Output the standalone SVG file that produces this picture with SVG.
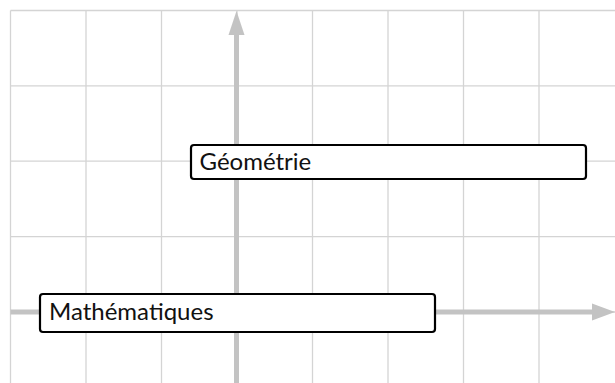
<svg xmlns="http://www.w3.org/2000/svg" width="615" height="383" viewBox="0 0 615 383">
<defs>
<style>
.grid line{stroke:#d4d4d4;stroke-width:1.3}
.axis{stroke:#c3c3c3;stroke-width:5;fill:none}
.head{fill:#c3c3c3}
.box{fill:#fff;stroke:#000;stroke-width:2.2}
.lbl{font-family:Lato,"Liberation Sans",sans-serif;font-size:24px;fill:#111}
</style>
</defs>
<rect width="615" height="383" fill="#fff"/>
<g class="grid">
<line x1="10.5" y1="10.5" x2="10.5" y2="383"/>
<line x1="86" y1="10.5" x2="86" y2="383"/>
<line x1="161.5" y1="10.5" x2="161.5" y2="383"/>
<line x1="237" y1="10.5" x2="237" y2="383"/>
<line x1="312.5" y1="10.5" x2="312.5" y2="383"/>
<line x1="388" y1="10.5" x2="388" y2="383"/>
<line x1="463.5" y1="10.5" x2="463.5" y2="383"/>
<line x1="539" y1="10.5" x2="539" y2="383"/>
<line x1="10.5" y1="10.5" x2="615" y2="10.5"/>
<line x1="10.5" y1="85.8" x2="615" y2="85.8"/>
<line x1="10.5" y1="161.2" x2="615" y2="161.2"/>
<line x1="10.5" y1="236.6" x2="615" y2="236.6"/>
<line x1="10.5" y1="312" x2="615" y2="312"/>
</g>
<g id="connectors">
<line class="axis" x1="236.5" y1="383" x2="236.5" y2="32"/>
<polygon class="head" points="236.5,11 228.5,35 244.5,35"/>
<line class="axis" x1="10.5" y1="312" x2="594" y2="312"/>
<polygon class="head" points="615,312 592,303.5 592,320.5"/>
</g>
<g id="geometrie">
<rect class="box" x="191" y="145" width="395" height="34" rx="3"/>
<text class="lbl" x="199.5" y="169.5">Géométrie</text>
</g>
<g id="mathematiques">
<rect class="box" x="40" y="294" width="395" height="38" rx="3"/>
<text class="lbl" x="49" y="320">Mathématiques</text>
</g>
</svg>
